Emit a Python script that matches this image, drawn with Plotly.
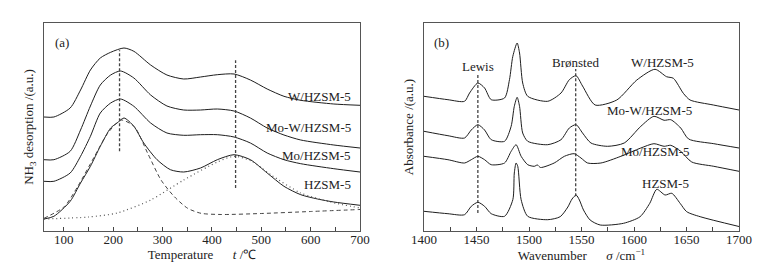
import plotly.graph_objects as go

# ---------------- Panel (a): NH3-TPD ----------------
tpd_labels = ["W/HZSM-5", "Mo-W/HZSM-5", "Mo/HZSM-5", "HZSM-5"]

w_x = [60, 80, 113, 134, 154, 174, 195, 222, 242, 276, 309, 343, 377, 411, 445, 478, 512, 546, 580, 647, 700]
w_y = [114, 114, 123, 141, 161, 173, 178.7, 183, 179.7, 166, 156, 152, 154, 156.3, 157, 151, 142, 134.7, 130.7, 127, 125.7]

mow_x = [60, 80, 113, 134, 154, 174, 195, 215, 242, 276, 309, 343, 377, 411, 445, 478, 512, 546, 580, 647, 700]
mow_y = [71.3, 71.3, 79.7, 101, 125, 146, 156, 160, 153, 136, 125, 121, 121, 122, 120, 113, 103, 96, 91, 86, 83]

mo_x = [60, 80, 113, 134, 154, 174, 195, 215, 242, 276, 309, 343, 377, 411, 445, 478, 512, 546, 580, 647, 700]
mo_y = [49.7, 49.7, 58, 74.7, 94.7, 118, 128, 132, 124.7, 108, 98, 95.7, 96.3, 96.3, 94, 88, 78, 71.3, 67.3, 62.3, 59]

h_x = [60, 80, 113, 134, 154, 174, 195, 208, 222, 242, 262, 289, 316, 343, 377, 411, 445, 478, 512, 546, 580, 614, 647, 700]
h_y = [12, 14.7, 29.7, 48, 64.7, 84.7, 103, 108, 113, 104.7, 88, 71.3, 61.3, 59, 63, 71.3, 76.3, 71.3, 58, 44.7, 36.3, 32, 29, 25.7]

# deconvoluted low-temperature peak (dashed)
low_x = [60, 101, 128, 162, 189, 216, 243, 270, 297, 324, 351, 378, 420, 500, 600, 700]
low_y = [12.7, 24.3, 44.3, 74.3, 97.7, 111, 104.3, 77.7, 51, 34.3, 22.7, 17.7, 16.5, 17.5, 19.5, 21.5]

# deconvoluted high-temperature peak (dotted)
high_x = [60, 150, 208, 276, 343, 411, 445, 480, 520, 580, 640, 700]
high_y = [12, 14, 18, 31, 51, 69, 74.7, 70, 56, 38, 29, 23]

# reference lines (a)
tpd_ref_x = [213, 448]
tpd_ref_top = [180.7, 170.7]
tpd_ref_bot = [79.7, 43]
tpd_label_y = [134.7, 103.7, 75.7, 46.3]

# ---------------- Panel (b): Py-IR ----------------
ir_labels = ["W/HZSM-5", "Mo-W/HZSM-5", "Mo/HZSM-5", "HZSM-5"]

irw_x = [1400, 1422.8, 1438.6, 1443.4, 1451.3, 1457.7, 1464, 1476.7, 1481.4, 1484.6, 1488.7, 1491, 1494, 1498.8, 1517.8, 1530.5, 1538.4, 1544.8, 1551, 1563, 1583.6, 1602.7, 1620, 1631, 1637.5, 1647, 1653.4, 1675.6, 1700]
irw_y = [134.7, 131.3, 129.7, 138, 148, 143, 131.3, 133, 151.3, 174.7, 188, 178, 148, 134.7, 129.7, 138, 151.3, 155.3, 145, 126, 131, 151, 161.7, 154.3, 152.7, 137.7, 131, 126, 121]

irmow_x = [1400, 1422.8, 1438.6, 1445, 1451.3, 1457.7, 1464, 1476.7, 1483, 1486, 1488.7, 1491, 1494, 1498.8, 1517.8, 1530.5, 1538.4, 1544.8, 1551, 1559, 1574.8, 1590.7, 1606.5, 1619, 1628.7, 1635, 1644.5, 1652, 1676, 1700]
irmow_y = [99.7, 95.3, 93, 101, 106.3, 101, 91.3, 89.7, 104.7, 124.7, 133.7, 124.7, 98, 89.7, 86.3, 91.3, 103, 106.3, 98, 88, 84.7, 88, 104.7, 114.7, 110.7, 111.3, 103, 92, 87.3, 83]

irmo_x = [1400, 1422.8, 1438.6, 1445, 1451.3, 1457.7, 1464, 1476.7, 1483, 1487.7, 1492.5, 1498.8, 1505, 1508, 1511, 1524, 1533.7, 1543, 1549.5, 1555.8, 1568.5, 1587.5, 1606.5, 1619, 1628.7, 1635, 1644.5, 1655, 1676, 1700]
irmo_y = [74.7, 71.3, 68, 71.3, 74.7, 71.3, 66.3, 68, 79.7, 86.3, 74.7, 66.3, 64.7, 66, 63.5, 68, 74.7, 77.3, 73, 68, 68, 74.7, 83, 87.3, 84.7, 85.7, 79.7, 69, 64.7, 59.7]

irh_x = [1400, 1422.8, 1438.6, 1445, 1451.3, 1457.7, 1464, 1476.7, 1484.6, 1486, 1487.7, 1489.3, 1492.5, 1498.8, 1517.8, 1529.7, 1537, 1541, 1544.9, 1548, 1551.9, 1558.2, 1567.8, 1590, 1605.8, 1615, 1621.7, 1629.6, 1636, 1643.9, 1650.2, 1663, 1700]
irh_y = [19.7, 17.3, 16.3, 24.7, 28.7, 24.7, 17.3, 14.7, 31.3, 58, 68, 64.7, 31.3, 14.7, 11.3, 14.3, 24, 32, 36, 31, 21, 11, 6, 7.7, 14.3, 27.7, 41.7, 36, 37.7, 27.7, 19.3, 14.3, 4.5]

ir_ref_x = [1451.3, 1544.5]
ir_ref_top = [156.3, 162]
ir_ref_bot = [18, 34.7]
ir_ref_names = ["Lewis", "Brønsted"]
ir_ref_label_y = [165, 169]
ir_label_x = [1627, 1615, 1620.8, 1630]
ir_label_y = [168.7, 121, 79.7, 48]

# ---------------- figure ----------------
FONT = "Liberation Serif, Times New Roman, serif"
LC = "#1e1e1e"
fig = go.Figure()

def curve(x, y, xa, ya, dash="solid", color=LC, width=1.0):
    fig.add_trace(go.Scatter(x=x, y=y, mode="lines", xaxis=xa, yaxis=ya,
                             line=dict(color=color, width=width, dash=dash, shape="spline", smoothing=0.7),
                             showlegend=False, hoverinfo="skip"))

for xs, ys in [(w_x, w_y), (mow_x, mow_y), (mo_x, mo_y), (h_x, h_y)]:
    curve(xs, ys, "x", "y")
curve(low_x, low_y, "x", "y", dash="4px,3px", color="#444", width=1.0)
curve(high_x, high_y, "x", "y", dash="1px,3px", color="#555", width=1.2)
for rx, rt, rb in zip(tpd_ref_x, tpd_ref_top, tpd_ref_bot):
    fig.add_trace(go.Scatter(x=[rx, rx], y=[rb, rt], mode="lines", xaxis="x", yaxis="y",
                             line=dict(color="#444", width=1.3, dash="3px,2px"), showlegend=False, hoverinfo="skip"))

for xs, ys in [(irw_x, irw_y), (irmow_x, irmow_y), (irmo_x, irmo_y), (irh_x, irh_y)]:
    curve(xs, ys, "x2", "y2")
for rx, rt, rb in zip(ir_ref_x, ir_ref_top, ir_ref_bot):
    fig.add_trace(go.Scatter(x=[rx, rx], y=[rb, rt], mode="lines", xaxis="x2", yaxis="y2",
                             line=dict(color="#333", width=1.2, dash="3px,2px"), showlegend=False, hoverinfo="skip"))

ann = []
for lab, ly in zip(tpd_labels, tpd_label_y):
    ann.append(dict(x=686, y=ly, xref="x", yref="y", text=lab, showarrow=False, xanchor="right", yanchor="middle"))
ann.append(dict(x=78, y=188.7, xref="x", yref="y", text="(a)", showarrow=False, xanchor="left", yanchor="middle"))
for lab, lx, ly in zip(ir_labels, ir_label_x, ir_label_y):
    ann.append(dict(x=lx, y=ly, xref="x2", yref="y2", text=lab, showarrow=False, xanchor="center", yanchor="middle"))
for lab, rx, ly in zip(ir_ref_names, ir_ref_x, ir_ref_label_y):
    ann.append(dict(x=rx, y=ly, xref="x2", yref="y2", text=lab, showarrow=False, xanchor="center", yanchor="middle"))
ann.append(dict(x=1408, y=188.7, xref="x2", yref="y2", text="(b)", showarrow=False, xanchor="left", yanchor="middle"))

axis_common = dict(showline=True, linecolor="#555", linewidth=1, mirror=True, showgrid=False, zeroline=False,
                   tickcolor="#444", tickfont=dict(size=13, color="#222"))
Y0, Y1 = 41 / 272, 249 / 272

fig.update_layout(
    width=762, height=272, margin=dict(l=0, r=0, t=0, b=0),
    paper_bgcolor="white", plot_bgcolor="white",
    font=dict(family=FONT, size=13, color="#222"),
    annotations=ann,
    xaxis=dict(domain=[44 / 762, 360 / 762], range=[60, 700], dtick=100, tick0=0,
               ticks="inside", ticklen=4, ticklabelstandoff=-4,
               minor=dict(dtick=50, tick0=0, ticks="inside", ticklen=4, tickcolor="#444"),
               title=dict(text="Temperature\u00a0\u00a0\u00a0\u00a0\u00a0\u00a0<i>t</i> /℃", standoff=0, font=dict(size=13)),
               anchor="y", automargin=False, **axis_common),
    yaxis=dict(domain=[Y0, Y1], range=[0, 208], showticklabels=False, ticks="",
               title=dict(text="NH<sub>3</sub> desorption /(a.u.)", standoff=6, font=dict(size=13)),
               anchor="x", automargin=False, **axis_common),
    xaxis2=dict(domain=[424 / 762, 739 / 762], range=[1400, 1700], dtick=50, tick0=1400,
                ticks="inside", ticklen=4, ticklabelstandoff=-4,
                minor=dict(dtick=25, tick0=1400, ticks="inside", ticklen=4, tickcolor="#444"),
                title=dict(text="Wavenumber\u00a0\u00a0\u00a0\u00a0\u00a0\u00a0<i>σ</i> /cm<sup>−1</sup>", standoff=0, font=dict(size=13)),
                anchor="y2", automargin=False, **axis_common),
    yaxis2=dict(domain=[Y0, Y1], range=[0, 208], showticklabels=False, ticks="",
                title=dict(text="Absorbance /(a.u.)", standoff=6, font=dict(size=13)),
                anchor="x2", automargin=False, **axis_common),
)

fig.write_html("out.html", config={"displayModeBar": False},
               post_script="document.body.style.margin='0px';")
